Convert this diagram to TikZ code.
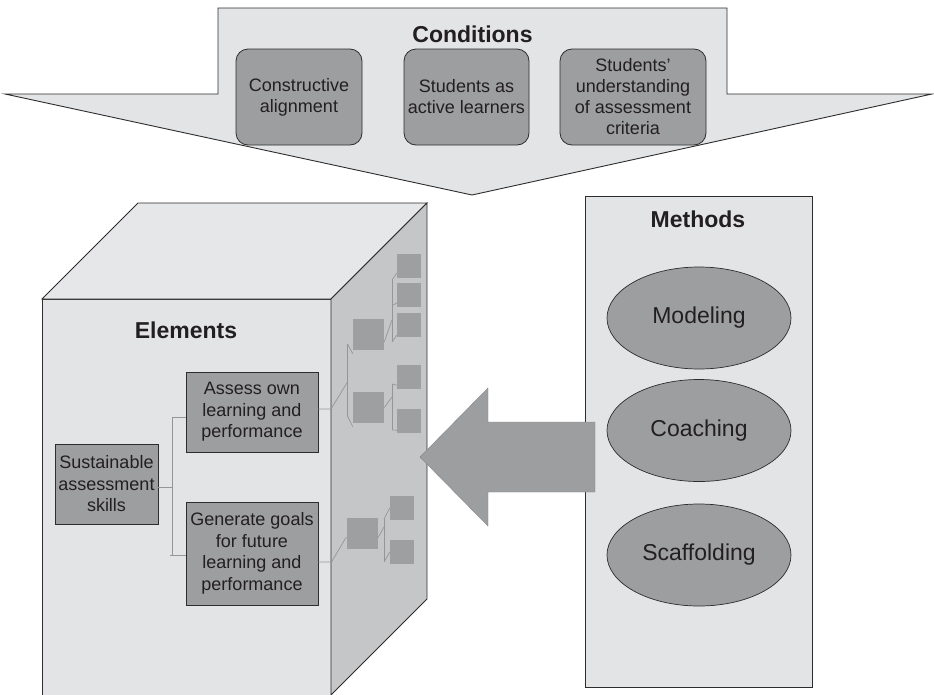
\documentclass[tikz,border=0pt]{standalone}
\usepackage{fontspec}
\setmainfont{Liberation Sans}
\usetikzlibrary{shapes.geometric,calc}
\definecolor{lightfill}{RGB}{227,228,230}
\definecolor{topfill}{RGB}{230,231,233}
\definecolor{facefill}{RGB}{197,198,200}
\definecolor{boxfill}{RGB}{157,158,160}
\definecolor{sqfill}{RGB}{158,159,161}
\definecolor{edgecol}{RGB}{45,45,45}
\definecolor{treecol}{RGB}{150,150,152}
\definecolor{txt}{RGB}{35,31,32}
\tikzset{
  panel/.style={draw=edgecol, line width=0.9pt, fill=lightfill, line join=miter},
  face/.style={draw=edgecol, line width=0.9pt, fill=facefill},
  rbox/.style={draw=edgecol, line width=0.8pt, fill=boxfill, rounded corners=12pt, align=center, inner sep=0pt, text=txt, font=\fontsize{18}{21}\selectfont},
  ebox/.style={draw=edgecol, line width=0.8pt, fill=boxfill, align=center, inner sep=0pt, text=txt, font=\fontsize{18}{21.5}\selectfont},
  oval/.style={ellipse, draw=edgecol, line width=0.7pt, fill=boxfill, minimum width=184pt, minimum height=102pt, inner sep=0pt, text=txt, font=\fontsize{23}{27}\selectfont},
  heading/.style={font=\fontsize{23}{27}\selectfont\bfseries, text=txt, inner sep=0pt},
  bigsq/.style={fill=sqfill, minimum width=31pt, minimum height=31pt, inner sep=0pt},
  smsq/.style={fill=sqfill, minimum width=24pt, minimum height=24pt, inner sep=0pt},
  conn/.style={draw=treecol, line width=0.9pt},
  tree/.style={draw=treecol, line width=0.7pt},
  bigarrow/.style={fill=boxfill, draw=boxfill!85!black, line width=0.4pt}
}
\begin{document}
\begin{tikzpicture}[x=1pt,y=-1pt]
\useasboundingbox (0,0) rectangle (934,694);

% Conditions arrow
\draw[panel] (218,8) -- (727,8) -- (727,94) -- (932,94) -- (472,195) -- (5,94) -- (218,94) -- cycle;
\node[heading] (condt) at (472.5,34) {Conditions};
\node[rbox, minimum width=126pt, minimum height=96pt] (c1) at (299,97) {Constructive\\alignment};
\node[rbox, minimum width=125pt, minimum height=96pt] (c2) at (466.5,97) {Students as\\active learners};
\node[rbox, minimum width=146pt, minimum height=96pt] (c3) at (633,97) {Students’\\understanding\\of assessment\\criteria};

% Cube
\draw[panel] (42,299) -- (42,710) -- (331,710) -- (331,299) -- cycle;
\draw[panel, fill=topfill] (42,299) -- (138,203) -- (427,203) -- (331,299) -- cycle;
\draw[face] (331,299) -- (427,203) -- (427,599) -- (331,695) -- cycle;
\node[heading] (elt) at (186,330) {Elements};

\node[ebox, minimum width=103pt, minimum height=80pt] (sus) at (106.5,484) {Sustainable\\assessment\\skills};
\node[ebox, minimum width=132pt, minimum height=80pt] (assess) at (252,412) {Assess own\\learning and\\performance};
\node[ebox, minimum width=132pt, minimum height=103pt] (gen) at (252,553.5) {Generate goals\\for future\\learning and\\performance};

\coordinate (jt) at (172,417);
\coordinate (jm) at (172,487);
\coordinate (jb) at (172,555);
\draw[conn] ([yshift=-3pt]sus.east) -- (jm);
\draw[conn] (jt) -- (jb);
\draw[conn] (jt) -- ([yshift=-5pt]assess.west);
\draw[conn] ([xshift=-2pt]jb) -- ([yshift=-1.5pt]gen.west);

% Tree on the side face
\node[bigsq] (b1) at (368.5,334.5) {};
\node[bigsq] (b2) at (368.5,407.5) {};
\node[bigsq] (b3) at (362,533.5) {};
\node[smsq] (s1) at (409,265.5) {};
\node[smsq] (s2) at (409,295) {};
\node[smsq] (s3) at (409,325) {};
\node[smsq] (s4) at (409,377) {};
\node[smsq] (s5) at (409,421) {};
\node[smsq] (s6) at (402,508) {};
\node[smsq] (s7) at (402,551.5) {};

\coordinate (ta0) at (331,409);
\coordinate (ta1) at (347.5,382);
\coordinate (ta2) at (347.5,344);
\coordinate (ta3) at (347.5,416);
\draw[tree] ([yshift=3pt]assess.east) -- (ta0) -- (ta1);
\draw[tree] (ta2) -- (ta3);
\draw[tree] (ta2) -- ([yshift=-3.5pt]b1.south west);
\draw[tree] (ta3) -- ([yshift=-3.5pt]b2.south west);

\coordinate (tb1) at (392,320);
\coordinate (tb2) at (392,280);
\coordinate (tb3) at (392,342);
\coordinate (tb4) at (392,306);
\draw[tree] ([yshift=-7.5pt]b1.east) -- (tb1);
\draw[tree] (tb2) -- (tb3);
\draw[tree] (tb2) -- ([yshift=4.5pt]s1.south west);
\draw[tree] (tb4) -- ([yshift=4.5pt]s2.south west);
\draw[tree] (tb3) -- ([yshift=2pt]s3.south west);

\coordinate (tc1) at (392,397);
\coordinate (tc2) at (392,384);
\coordinate (tc3) at (392,430);
\draw[tree] ([yshift=0pt]b2.east) -- (tc1);
\draw[tree] (tc2) -- (tc3);
\draw[tree] (tc2) -- ([yshift=4pt]s4.south west);
\draw[tree] (tc3) -- ([yshift=3pt]s5.south west);

\coordinate (td0) at (331.5,562);
\draw[tree] ([yshift=-8.5pt]gen.east) -- (td0) -- ([yshift=-3.5pt]b3.west);
\coordinate (td1) at (384,527);
\coordinate (td2) at (384,519);
\coordinate (td3) at (384,562);
\draw[tree] ([yshift=-4.5pt]b3.east) -- (td1);
\draw[tree] (td2) -- (td3);
\draw[tree] (td2) -- ([yshift=0pt]s6.west);
\draw[tree] (td3) -- ([yshift=-0.5pt]s7.west);

% Methods panel
\draw[panel] (585,196) rectangle (812,687);
\node[heading] (metht) at (698,219) {Methods};
\node[oval] (mod) at (699,318) {Modeling};
\node[oval] (coach) at (699,430.5) {Coaching};
\node[oval] (scaf) at (699,555) {Scaffolding};

% Big arrow from Methods to Elements
\draw[bigarrow] (595,422) -- (488,422) -- (488,388) -- (420,457) -- (488,526) -- (488,492) -- (595,492) -- cycle;
\end{tikzpicture}
\end{document}
